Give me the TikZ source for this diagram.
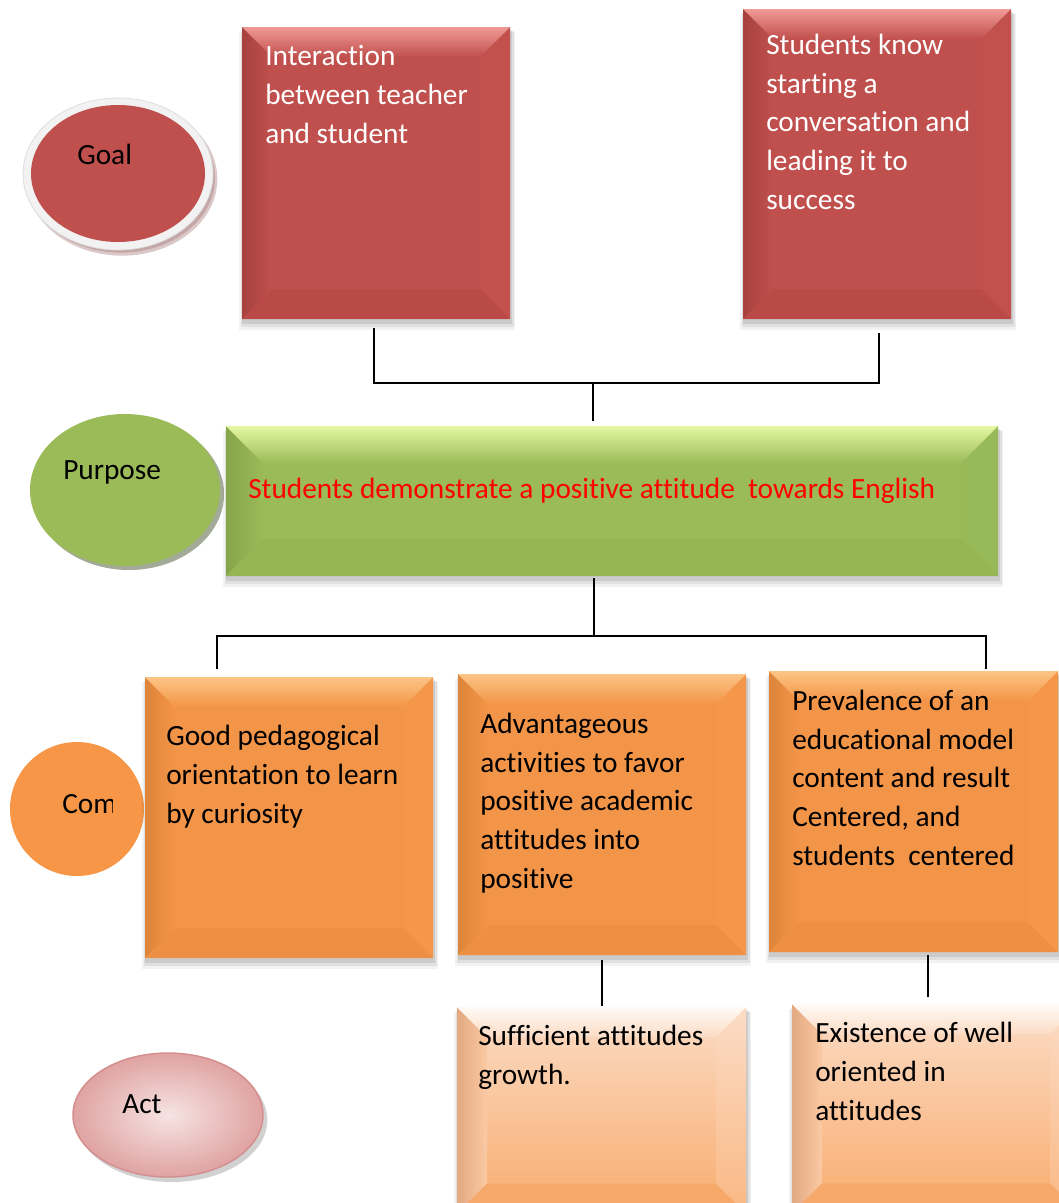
\documentclass[tikz,border=0pt]{standalone}
\usepackage{fontspec}
\setmainfont{Carlito}[Ligatures=NoCommon]
\usetikzlibrary{calc,shapes.geometric}

\definecolor{redface}{HTML}{C0504D}
\definecolor{redtop}{HTML}{F09A96}
\definecolor{redleft}{HTML}{A7423F}
\definecolor{redright}{HTML}{C2514E}
\definecolor{redbottom}{HTML}{BA4A46}
\definecolor{greenface}{HTML}{9BBB59}
\definecolor{greentop}{HTML}{E4F7A2}
\definecolor{greenleft}{HTML}{86A449}
\definecolor{greenright}{HTML}{98B957}
\definecolor{greenbottom}{HTML}{96B654}
\definecolor{orangeface}{HTML}{F39548}
\definecolor{orangetop}{HTML}{FCC585}
\definecolor{orangeleft}{HTML}{DD853B}
\definecolor{orangeright}{HTML}{F5974A}
\definecolor{orangebottom}{HTML}{EE9043}
\definecolor{peachtop}{HTML}{FBDCC6}
\definecolor{peachbot}{HTML}{F9AC6E}
\definecolor{peachedge}{HTML}{FFFAF5}
\definecolor{peachleft}{HTML}{E2A982}
\definecolor{peachright}{HTML}{FAB884}
\definecolor{peachlow}{HTML}{F6A96B}
\definecolor{ringgray}{HTML}{F2F2F2}
\definecolor{ringedge}{HTML}{DADADA}
\definecolor{goalshadow}{HTML}{B89292}
\definecolor{purposeshadow}{HTML}{A3AA97}
\definecolor{comfill}{HTML}{F79646}
\definecolor{actin}{HTML}{F6E4E3}
\definecolor{actout}{HTML}{DFA3A2}
\definecolor{actedge}{HTML}{D48E8D}

% soft drop shadow under a panel
\newcommand\panelshadow[1]{%
  \fill[black,opacity=0.05] ($(#1.north west)+(-3,5)$) rectangle ($(#1.south east)+(5,11)$);
  \fill[black,opacity=0.07] ($(#1.north west)+(-1,4)$) rectangle ($(#1.south east)+(4,8)$);
  \fill[black,opacity=0.09] ($(#1.north west)+(0,3)$) rectangle ($(#1.south east)+(2,5)$);
}
% bevelled edges of a panel: node, depth, top edge, face, left edge, right, bottom
\newcommand\bevelfaces[7]{%
  \shade[left color=#5, right color=#4] (#1.north west) -- ($(#1.north west)+(#2,#2)$)
     -- ($(#1.south west)+(#2,-#2)$) -- (#1.south west) -- cycle;
  \fill[#6] (#1.north east) -- ($(#1.north east)+(-#2,#2)$)
     -- ($(#1.south east)+(-#2,-#2)$) -- (#1.south east) -- cycle;
  \fill[#7] (#1.south west) -- ($(#1.south west)+(#2,-#2)$)
     -- ($(#1.south east)+(-#2,-#2)$) -- (#1.south east) -- cycle;
  \shade[top color=#3, bottom color=#4] (#1.north west) -- (#1.north east)
     -- ($(#1.north east)+(-#2,#2)$) -- ($(#1.north west)+(#2,#2)$) -- cycle;
}

\begin{document}
\begin{tikzpicture}[x=0.75pt,y=-0.75pt,
  conn/.style={draw=black,line width=1.15pt},
  % text blocks are placed by the baseline of their last line
  txt/.style={anchor=base west,align=left,inner sep=0pt,font=\fontsize{22}{28.9}\selectfont},
  panel/.style={rectangle,inner sep=0pt,outer sep=0pt,anchor=north west},
  oval/.style={ellipse,inner sep=0pt,outer sep=0pt}]
\useasboundingbox (0,0) rectangle (1059,1203);
\clip (0,0) rectangle (1059,1203);
\fill[white] (0,0) rectangle (1059,1203);

% ---------- Goal ----------
\node[oval,fill=goalshadow,opacity=0.5,minimum width=143pt,minimum height=115pt] (goalsh) at (122,179) {};
\node[oval,fill=goalshadow,opacity=0.6,minimum width=141pt,minimum height=112pt] (goalsh2) at (121,178) {};
\node[oval,fill=ringgray,draw=ringedge,line width=0.5pt,minimum width=142.5pt,minimum height=114pt] (goalring) at (118,174) {};
\node[oval,fill=redface,minimum width=130.5pt,minimum height=102.75pt] (goal) at (118,173.5) {};
\node[txt] (goaltxt) at (77,164) {Goal};

% ---------- top panels ----------
\node[panel,minimum width=201pt,minimum height=219pt] (g1) at (242,27) {};
\node[panel,minimum width=201pt,minimum height=232.5pt] (g2) at (743,9) {};
\panelshadow{g1}\panelshadow{g2}
\fill[redface] (g1.north west) rectangle (g1.south east);
\fill[redface] (g2.north west) rectangle (g2.south east);
\bevelfaces{g1}{30}{redtop}{redface}{redleft}{redright}{redbottom}
\bevelfaces{g2}{30}{redtop}{redface}{redleft}{redright}{redbottom}
\node[txt,text=white] (g1txt) at (265,143) {Interaction\\between teacher\\and student};
\node[txt,text=white] (g2txt) at (766,209) {Students know\\starting a\\conversation and\\leading it to\\success};

% ---------- Purpose ----------
\node[oval,fill=purposeshadow,minimum width=142.5pt,minimum height=114pt] (purpsh) at (129,494) {};
\node[oval,fill=greenface,minimum width=142.5pt,minimum height=114pt] (purp) at (125,490) {};
\node[txt] (purptxt) at (63,479) {Purpose};

\node[panel,minimum width=579pt,minimum height=112.5pt] (gr) at (226,426) {};
\panelshadow{gr}
\fill[greenface] (gr.north west) rectangle (gr.south east);
\bevelfaces{gr}{37}{greentop}{greenface}{greenleft}{greenright}{greenbottom}
\node[txt,text=red] (grtxt) at (248,498) {Students demonstrate a positive attitude\ \ towards English};

% ---------- Com ----------
\node[circle,fill=comfill,inner sep=0pt,minimum size=100.5pt] (com) at (77,809) {};
\begin{scope}
  \clip (0,740) rectangle (112.5,880);
  \node[txt] (comtxt) at (62,813) {Com};
\end{scope}

% ---------- orange panels ----------
\node[panel,minimum width=216pt,minimum height=210.75pt] (o1) at (145,677) {};
\node[panel,minimum width=216pt,minimum height=210.75pt] (o2) at (458,674) {};
\node[panel,minimum width=216.75pt,minimum height=210.75pt] (o3) at (769,671) {};
\panelshadow{o1}\panelshadow{o2}\panelshadow{o3}
\foreach \b in {o1,o2,o3}{
  \fill[orangeface] (\b.north west) rectangle (\b.south east);
  \bevelfaces{\b}{30}{orangetop}{orangeface}{orangeleft}{orangeright}{orangebottom}
}
\node[txt] (o1txt) at (166,823) {Good pedagogical\\orientation to learn\\by curiosity};
\node[txt] (o2txt) at (480,888) {Advantageous\\activities to favor\\positive academic\\attitudes into\\positive};
\node[txt] (o3txt) at (792,865) {Prevalence of an\\educational model\\content and result\\Centered, and\\students\ \ centered};

% ---------- peach panels ----------
\node[panel,minimum width=216.75pt,minimum height=155pt] (p1) at (457,1007) {};
\node[panel,minimum width=216pt,minimum height=157pt] (p2) at (792,1004) {};
\panelshadow{p1}\panelshadow{p2}
\foreach \b in {p1,p2}{
  \shade[top color=peachtop,bottom color=peachbot] (\b.north west) rectangle (\b.south east);
  \shade[left color=peachleft,right color=peachtop!60!peachbot] (\b.north west) -- ($(\b.north west)+(30,30)$)
     -- ($(\b.south west)+(30,-30)$) -- (\b.south west) -- cycle;
  \shade[top color=peachtop,bottom color=peachright] (\b.north east) -- ($(\b.north east)+(-30,30)$)
     -- ($(\b.south east)+(-30,-30)$) -- (\b.south east) -- cycle;
  \fill[peachlow] (\b.south west) -- ($(\b.south west)+(30,-30)$)
     -- ($(\b.south east)+(-30,-30)$) -- (\b.south east) -- cycle;
  \shade[top color=peachedge,bottom color=peachtop] (\b.north west) -- (\b.north east)
     -- ($(\b.north east)+(-30,30)$) -- ($(\b.north west)+(30,30)$) -- cycle;
}
\node[txt] (p1txt) at (478,1084) {Sufficient attitudes\\growth.};
\node[txt] (p2txt) at (815,1120) {Existence of well\\oriented in\\attitudes};

% ---------- Act ----------
\node[oval,fill=black,opacity=0.18,minimum width=143pt,minimum height=93pt] (actsh) at (172,1120) {};
\node[oval,inner color=actin,outer color=actout,draw=actedge,line width=1.1pt,minimum width=142.5pt,minimum height=93pt] (act) at (168,1115) {};
\node[txt] (acttxt) at (122,1113) {Act};

% ---------- connectors ----------
\coordinate (busA) at (593,383);
\coordinate (busB) at (594,636);
\draw[conn] ([shift={(-2,9)}]g1.south) |- (busA) -| ([shift={(2,14)}]g2.south);
\draw[conn] (busA) -- ($(busA |- gr.north)+(0,-5)$);
\draw[conn] ([shift={(-18,2)}]gr.south) -- (busB);
\draw[conn] ([shift={(-72,-8)}]o1.north) |- (busB) -| ([shift={(72.5,-2)}]o3.north);
\draw[conn] ([shift={(0,5)}]o2.south) -- ([shift={(0.5,-1)}]p1.north);
\draw[conn] ([shift={(14.5,3)}]o3.south) -- ([shift={(-8,-7)}]p2.north);
\end{tikzpicture}
\end{document}
